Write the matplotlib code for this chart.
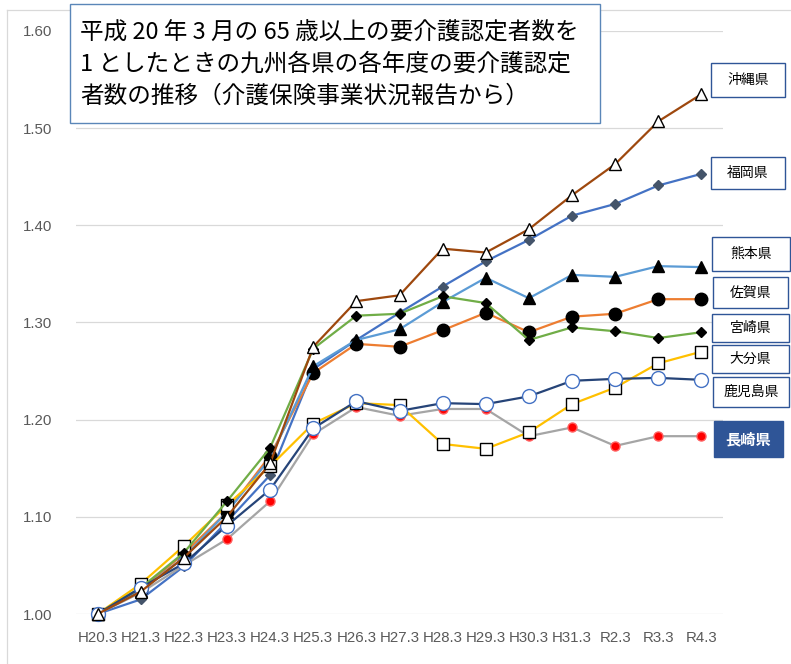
import matplotlib
matplotlib.use("Agg")
import matplotlib.pyplot as plt
from matplotlib.patches import Rectangle

plt.rcParams['font.family'] = ['Liberation Sans', 'Noto Sans CJK JP', 'DejaVu Sans']

years = ['H20.3', 'H21.3', 'H22.3', 'H23.3', 'H24.3', 'H25.3', 'H26.3', 'H27.3',
         'H28.3', 'H29.3', 'H30.3', 'H31.3', 'R2.3', 'R3.3', 'R4.3']

fukuoka   = [1.000, 1.015, 1.049, 1.095, 1.143, 1.252, 1.282, 1.310, 1.337, 1.363, 1.385, 1.410, 1.422, 1.441, 1.453]
saga      = [1.000, 1.025, 1.062, 1.105, 1.163, 1.248, 1.278, 1.275, 1.292, 1.310, 1.290, 1.306, 1.309, 1.324, 1.324]
nagasaki  = [1.000, 1.022, 1.050, 1.077, 1.116, 1.185, 1.213, 1.204, 1.211, 1.211, 1.183, 1.192, 1.173, 1.183, 1.183]
kumamoto  = [1.000, 1.024, 1.058, 1.105, 1.160, 1.255, 1.282, 1.293, 1.321, 1.346, 1.325, 1.349, 1.347, 1.358, 1.357]
oita      = [1.000, 1.031, 1.070, 1.112, 1.152, 1.196, 1.217, 1.215, 1.175, 1.170, 1.187, 1.216, 1.233, 1.258, 1.270]
miyazaki  = [1.000, 1.027, 1.063, 1.116, 1.171, 1.273, 1.307, 1.309, 1.327, 1.320, 1.282, 1.295, 1.291, 1.284, 1.290]
kagoshima = [1.000, 1.027, 1.052, 1.091, 1.128, 1.191, 1.219, 1.209, 1.217, 1.216, 1.224, 1.240, 1.242, 1.243, 1.241]
okinawa   = [1.000, 1.023, 1.058, 1.100, 1.155, 1.275, 1.322, 1.328, 1.376, 1.372, 1.396, 1.431, 1.463, 1.507, 1.535]

yticks = [1.00, 1.10, 1.20, 1.30, 1.40, 1.50, 1.60]

title_lines = ['平成 20 年 3 月の 65 歳以上の要介護認定者数を',
               '1 としたときの九州各県の各年度の要介護認定',
               '者数の推移（介護保険事業状況報告から）']

W, H = 791, 664


def fx(x):
    return x / W


def fy(y):
    return 1 - y / H


fig = plt.figure(figsize=(W / 100, H / 100), dpi=100)
ax = fig.add_axes([fx(76), fy(614), fx(723) - fx(76), fy(31) - fy(614)])

x = list(range(len(years)))

# (values, line colour, marker, face, edge, size)
series = [
    (fukuoka,   '#4472C4', 'D', '#44546A', '#44546A', 5.5),
    (saga,      '#ED7D31', 'o', 'black',   'black',   9),
    (nagasaki,  '#A5A5A5', 'o', '#FF0000', '#FF6060', 6.5),
    (kumamoto,  '#5B9BD5', '^', 'black',   'black',   8),
    (oita,      '#FFC000', 's', 'white',   'black',   8.5),
    (miyazaki,  '#70AD47', 'D', 'black',   'black',   5.5),
    (kagoshima, '#264478', 'o', 'white',   '#4472C4', 10),
    (okinawa,   '#9E480E', '^', 'white',   'black',   8.5),
]
for vals, lc, mk, fc, ec, ms in series:
    ax.plot(x, vals, color=lc, lw=1.6, marker=mk, markerfacecolor=fc,
            markeredgecolor=ec, markersize=ms, markeredgewidth=1.0, clip_on=False)

ax.set_xlim(-0.5, len(years) - 0.5)
ax.set_ylim(1.0, 1.6)
ax.set_yticks(yticks)
ax.set_yticklabels(['%.2f' % v for v in yticks])
ax.set_xticks(x)
ax.set_xticklabels(years)
ax.tick_params(length=0, labelsize=10.8, labelcolor='#595959')
ax.tick_params(axis='y', pad=17)
ax.tick_params(axis='x', pad=12)
ax.grid(axis='y', color='#D9D9D9', lw=0.9)
ax.set_axisbelow(True)
for s in ax.spines.values():
    s.set_visible(False)

# chart area border (left / top visible)
fig.add_artist(plt.Line2D([fx(7), fx(7)], [fy(10), 0], transform=fig.transFigure,
                          color='#D9D9D9', lw=0.9))
fig.add_artist(plt.Line2D([fx(7), 1], [fy(10), fy(10)], transform=fig.transFigure,
                          color='#D9D9D9', lw=0.9))

# title box
fig.add_artist(Rectangle((fx(70), fy(123)), fx(600) - fx(70), fy(4) - fy(123),
                         transform=fig.transFigure, facecolor='white',
                         edgecolor='#5A86B8', lw=1.0, zorder=5))
for i, line in enumerate(title_lines):
    fig.text(fx(80), fy(33 + 31.5 * i), line, fontsize=17, family='Noto Sans CJK JP',
             va='center', ha='left', color='black', zorder=6)

# label boxes: name, x, y top, width, height
labels = [
    ('沖縄県', 711, 63, 74, 34),
    ('福岡県', 711, 157, 74, 32),
    ('熊本県', 712, 237, 78, 34),
    ('佐賀県', 713, 277, 75, 31),
    ('宮崎県', 712, 314, 77, 28),
    ('大分県', 712, 345, 77, 28),
    ('鹿児島県', 713, 377, 76, 30),
]
for name, bx, by, bw, bh in labels:
    fig.add_artist(Rectangle((fx(bx), fy(by + bh)), bw / W, bh / H,
                             transform=fig.transFigure, facecolor='white',
                             edgecolor='#2F5597', lw=1.0, zorder=5))
    fig.text(fx(bx + bw / 2), fy(by + bh / 2), name, fontsize=10,
             family='Noto Sans CJK JP', ha='center', va='center', zorder=6)

fig.add_artist(Rectangle((fx(714), fy(457)), 69 / W, 36 / H,
                         transform=fig.transFigure, facecolor='#2F5597',
                         edgecolor='#2F5597', lw=1.0, zorder=5))
fig.text(fx(748.5), fy(439), '長崎県', fontsize=11, fontweight='bold',
         family='Noto Sans CJK JP', color='white', ha='center', va='center', zorder=6)

fig.savefig('out.png', dpi=100)
